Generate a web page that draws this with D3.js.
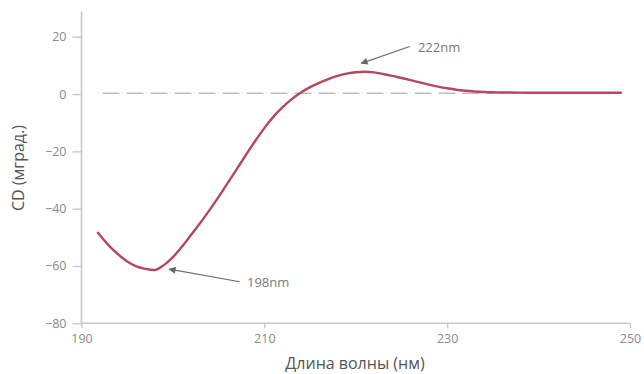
<!DOCTYPE html>
<html>
<head>
<meta charset="utf-8">
<script src="https://cdn.jsdelivr.net/npm/d3@7"></script>
<style>
  html, body { margin: 0; padding: 0; background: #fff; }
  svg { display: block; font-family: "Open Sans", "Noto Sans", sans-serif; }
</style>
</head>
<body>
<svg id="chart" width="644" height="374"></svg>
<script>
// ---- data ----
const wavelengths = [191.8,193,194,195,196,197,198,199,200,201,202,203,204,205,206,207,208,209,210,211,212,213,214,215,216,217,218,219,220,221,222,223,224,225,226,227,228,229,230,231,232,233,234,235,236,238,240,245,249];
const cdValues    = [-48.4,-52.9,-55.9,-58.4,-60.1,-61.0,-61.4,-59.7,-56.9,-53.2,-49.1,-44.9,-40.5,-35.9,-31.0,-26.1,-21.2,-16.4,-11.9,-7.9,-4.6,-1.8,0.5,2.4,3.9,5.2,6.3,7.1,7.6,7.75,7.55,7.0,6.35,5.6,4.85,4.05,3.3,2.6,2.0,1.5,1.15,0.9,0.72,0.6,0.53,0.48,0.45,0.45,0.45];
const xTicks = [190, 210, 230, 250];
const yTicks = [-80, -60, -40, -20, 0, 20];
// annotation: arrow from (fromWl, fromVal) to (toWl, toVal), label at (textWl, textVal)
const annotationLabels = ["222nm", "198nm"];
const arrowFrom = [[225.9, 16.6], [207.3, -65.5]];
const arrowTo   = [[220.6, 10.7], [199.6, -61.1]];
const labelAt   = [[226.8, 16.2], [208.1, -65.6]];
const baselineRange = [192.3, 249];
const xLabel = "Длина волны (нм)";
const yLabel = "CD (мград.)";

// ---- layout ----
const svg = d3.select("#chart");
const x = d3.scaleLinear().domain([190, 250]).range([81.5, 630]);
const y = d3.scaleLinear().domain([-80, 20]).range([323.3, 36.7]);
const axisColor = "#c8c8c8";
const tickTextColor = "#8a8a8a";

// x axis
const gx = svg.append("g").attr("transform", `translate(0,${y(-80)})`)
  .call(d3.axisBottom(x).tickValues(xTicks).tickSize(5).tickPadding(6).tickFormat(d3.format("d")));
gx.select(".domain").attr("stroke", axisColor).attr("stroke-width", 1.6)
  .attr("d", `M${x(190)},0H${x(250)}`);
gx.selectAll(".tick line").attr("stroke", axisColor).attr("stroke-width", 1.4);
gx.selectAll(".tick text").attr("fill", tickTextColor).style("font-size", "12.5px")
  .style("font-family", "'Open Sans', sans-serif");

// y axis
const gy = svg.append("g").attr("transform", `translate(${x(190)},0)`)
  .call(d3.axisLeft(y).tickValues(yTicks).tickSize(9).tickPadding(6));
gy.select(".domain").attr("stroke", axisColor).attr("stroke-width", 1.6)
  .attr("d", `M0,${y(28.8)}V${y(-80)}`);
gy.selectAll(".tick line").attr("stroke", axisColor).attr("stroke-width", 1.4);
gy.selectAll(".tick text").attr("fill", tickTextColor).style("font-size", "12.5px")
  .style("font-family", "'Open Sans', sans-serif");

// zero baseline (dashed)
svg.append("line")
  .attr("x1", x(baselineRange[0])).attr("x2", x(baselineRange[1]))
  .attr("y1", y(0) - 0.7).attr("y2", y(0) - 0.7)
  .attr("stroke", "#bdbdbd").attr("stroke-width", 1.5)
  .attr("stroke-dasharray", "17,7");

// curve
const line = d3.line()
  .x((d, i) => x(wavelengths[i]))
  .y(d => y(d))
  .curve(d3.curveMonotoneX);
svg.append("path")
  .datum(cdValues)
  .attr("d", line)
  .attr("fill", "none")
  .attr("stroke", "#b5475f")
  .attr("stroke-width", 2.4)
  .attr("stroke-linejoin", "round")
  .attr("stroke-linecap", "round");

// arrow marker
svg.append("defs").append("marker")
  .attr("id", "arrow").attr("viewBox", "0 0 10 10")
  .attr("refX", 9).attr("refY", 5)
  .attr("markerWidth", 9).attr("markerHeight", 7)
  .attr("markerUnits", "userSpaceOnUse")
  .attr("orient", "auto")
  .append("path").attr("d", "M0,0L10,5L0,10z").attr("fill", "#666");

annotationLabels.forEach((label, i) => {
  svg.append("line")
    .attr("x1", x(arrowFrom[i][0])).attr("y1", y(arrowFrom[i][1]))
    .attr("x2", x(arrowTo[i][0])).attr("y2", y(arrowTo[i][1]))
    .attr("stroke", "#6e6e6e").attr("stroke-width", 1.2)
    .attr("marker-end", "url(#arrow)");
  svg.append("text")
    .attr("x", x(labelAt[i][0])).attr("y", y(labelAt[i][1]))
    .attr("dy", "0.35em")
    .attr("fill", "#7a7a7a")
    .style("font-size", "13px")
    .text(label);
});

// axis titles
svg.append("text")
  .attr("x", 355).attr("y", 363).attr("dy", "0.35em")
  .attr("text-anchor", "middle")
  .attr("fill", "#555")
  .style("font-size", "16px")
  .text(xLabel);
svg.append("text")
  .attr("transform", `translate(18,${168}) rotate(-90)`)
  .attr("dy", "0.35em")
  .attr("text-anchor", "middle")
  .attr("fill", "#555")
  .style("font-size", "16px")
  .text(yLabel);
</script>
</body>
</html>
